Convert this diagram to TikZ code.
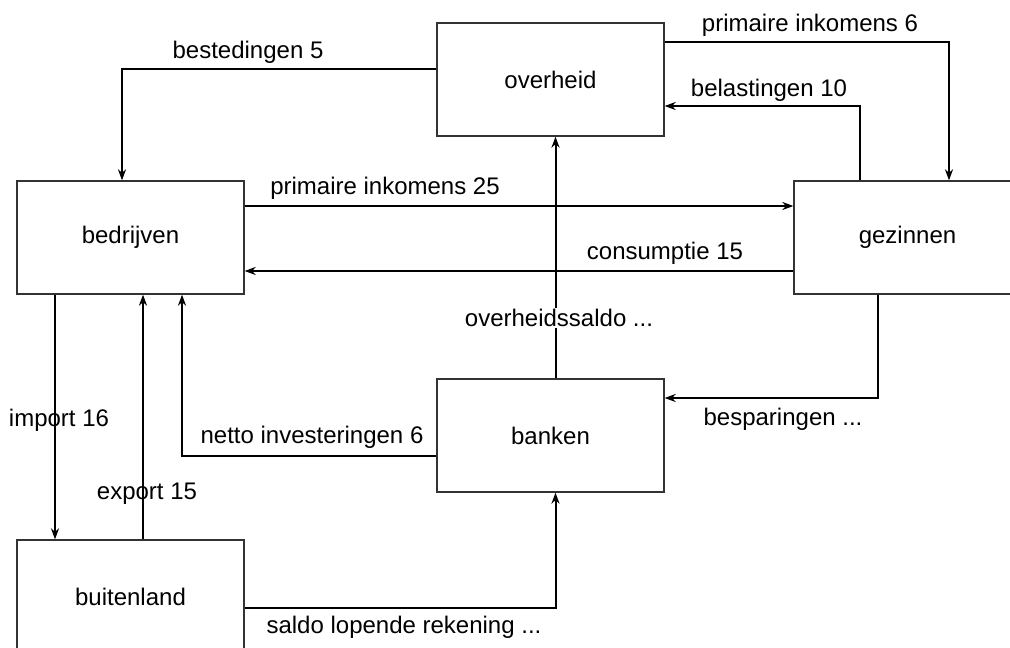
\documentclass[tikz,border=0pt]{standalone}
\usepackage{fontspec}
\setmainfont{Liberation Sans}
\usetikzlibrary{arrows.meta}
\begin{document}
\begin{tikzpicture}[x=1pt,y=-1pt,
  box/.style={draw=black!80,line width=1.3pt,fill=white,minimum width=227pt,minimum height=113pt,inner sep=0pt,font=\fontsize{24}{28}\selectfont},
  flow/.style={line width=2pt,-{Stealth[length=11pt,width=8pt,inset=3.5pt]}},
  lbl/.style={inner sep=1pt,font=\fontsize{24}{28}\selectfont}]
\useasboundingbox (0,0) rectangle (1010,648);
\clip (0,0) rectangle (1010,648);
\node[box] (overheid) at (550.5,79.5) {overheid};
\node[box] (bedrijven) at (130.5,237.5) {bedrijven};
\node[box] (gezinnen) at (907.5,237.5) {gezinnen};
\node[box] (banken) at (550.5,435.5) {banken};
\node[box] (buitenland) at (130.5,596.5) {buitenland};

\draw[flow] ([yshift=10.5pt]overheid.west) -| ([xshift=-8.5pt]bedrijven.north);
\draw[flow] ([yshift=37.5pt]overheid.east) -| ([xshift=41.5pt]gezinnen.north);
\draw[flow] ([xshift=-47.5pt]gezinnen.north) |- ([yshift=-26.5pt]overheid.east);
\draw[flow] ([yshift=31.5pt]bedrijven.east) -- ([yshift=31.5pt]gezinnen.west);
\draw[flow] ([yshift=-33.5pt]gezinnen.west) -- ([yshift=-33.5pt]bedrijven.east);
\draw[flow] ([xshift=-75.5pt]bedrijven.south) -- ([xshift=-75.5pt]buitenland.north);
\draw[flow] ([xshift=12.5pt]buitenland.north) -- ([xshift=12.5pt]bedrijven.south);
\draw[flow] ([yshift=-20pt]banken.west) -| ([xshift=51.5pt]bedrijven.south);
\draw[flow] ([xshift=5pt]banken.north) -- ([xshift=5pt]overheid.south);
\draw[flow] ([xshift=-29.5pt]gezinnen.south) |- ([yshift=37.5pt]banken.east);
\draw[flow] ([yshift=-11.5pt]buitenland.east) -| ([xshift=5pt]banken.south);

\node[lbl] (l1) at (248,52) {bestedingen 5};
\node[lbl] (l2) at (810,25) {primaire inkomens 6};
\node[lbl] (l3) at (769,90) {belastingen 10};
\node[lbl] (l4) at (385,188) {primaire inkomens 25};
\node[lbl] (l5) at (665,253) {consumptie 15};
\node[lbl] (l6) at (59,420) {import 16};
\node[lbl] (l7) at (147,494) {export 15};
\node[lbl] (l8) at (312,437) {netto investeringen 6};
\node[lbl,fill=white] (l9) at (559,318) {overheidssaldo ...};
\node[lbl] (l10) at (783,419) {besparingen ...};
\node[lbl] (l11) at (404,627) {saldo lopende rekening ...};
\end{tikzpicture}
\end{document}
